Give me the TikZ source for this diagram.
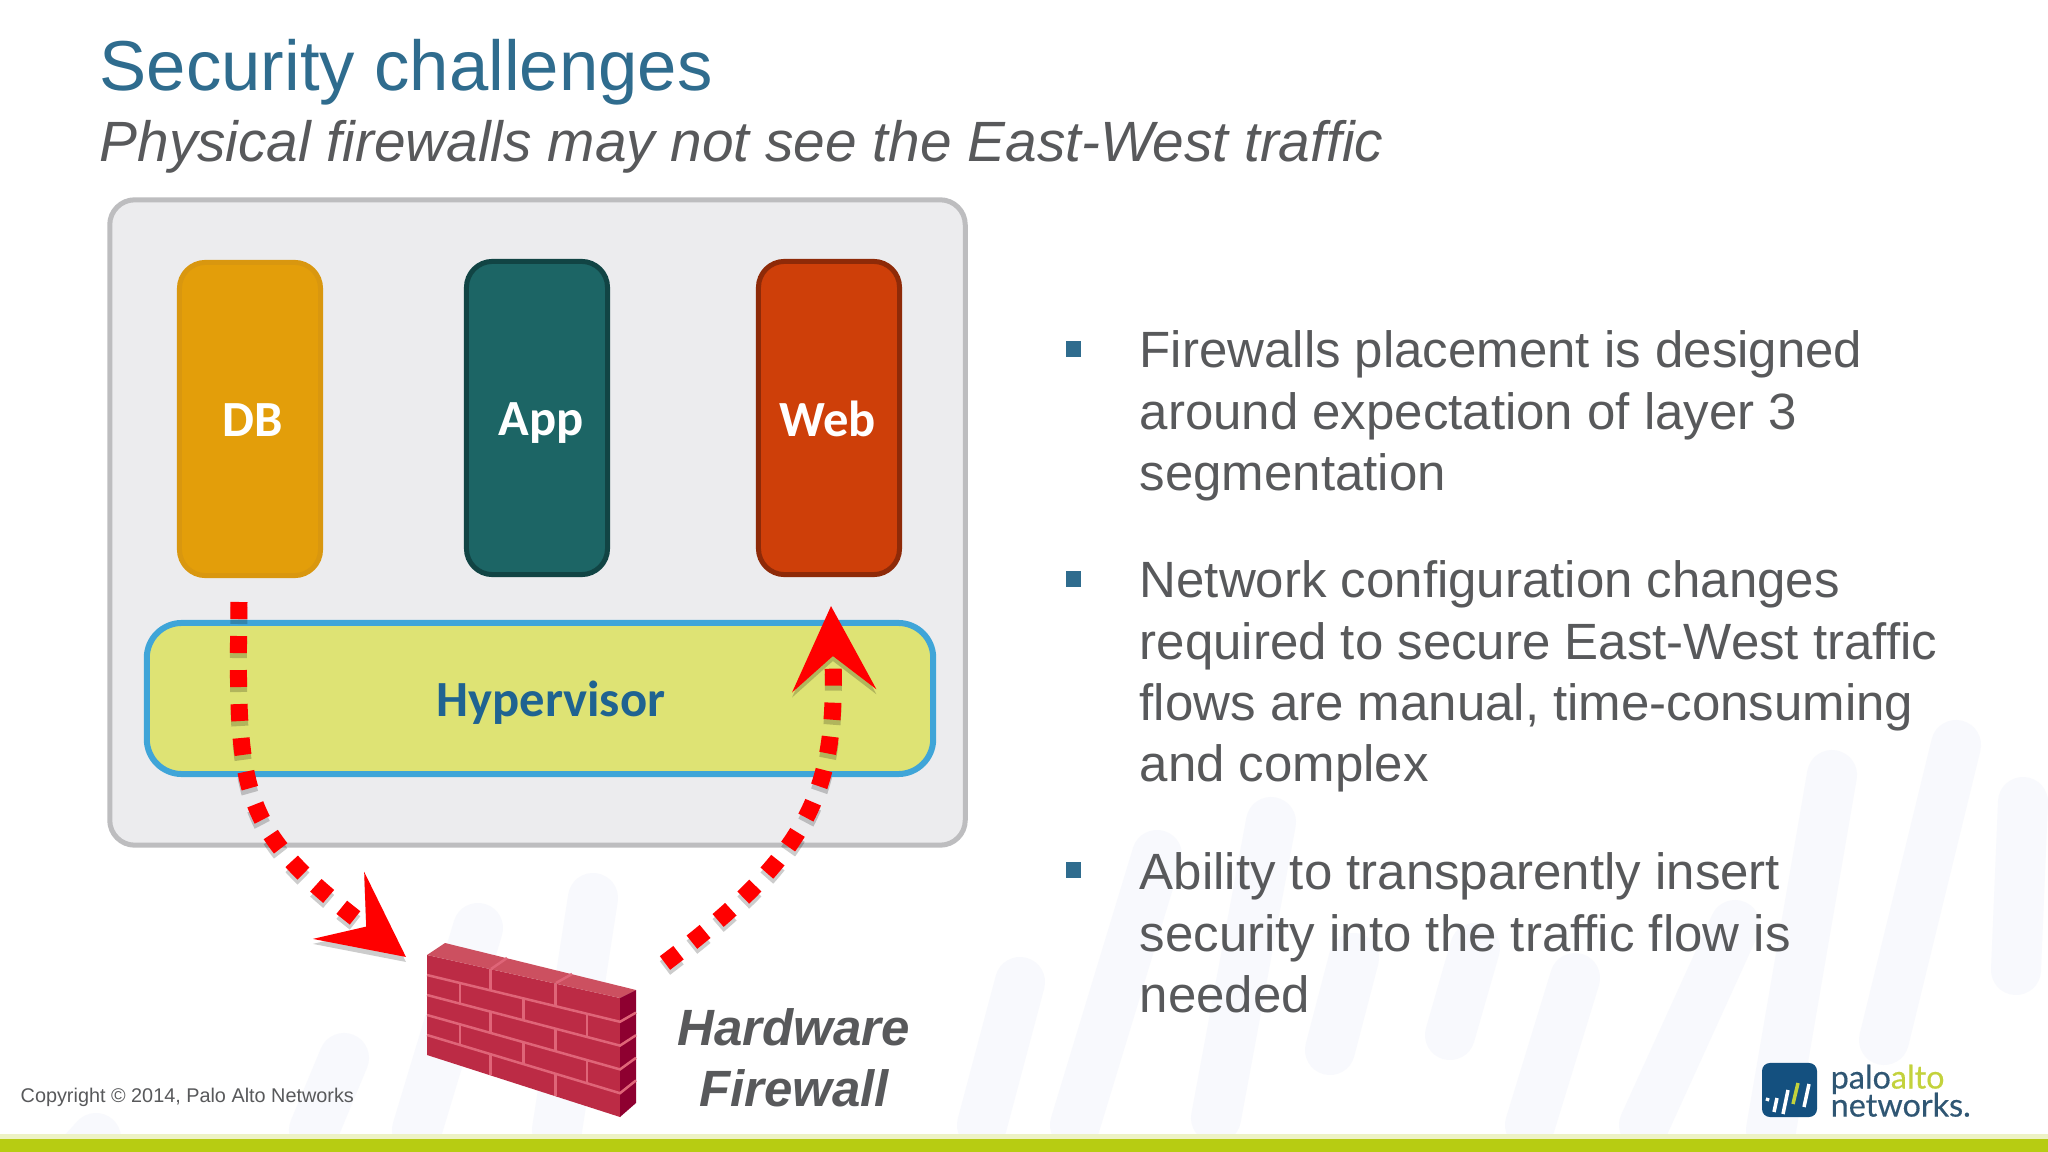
\documentclass[tikz,border=0pt]{standalone}
\usepackage{fontspec}
\setmainfont{Liberation Sans}
\newfontfamily\tierfont{Carlito}
\newfontfamily\logofont[FakeBold=0.4]{Lato}
\newcommand{\logotight}{\setlength{\lineskiplimit}{-10pt}}
\usetikzlibrary{arrows.meta}

\definecolor{titleblue}{HTML}{2F6C8E}
\definecolor{textgrey}{HTML}{58595B}
\definecolor{flowred}{HTML}{FF0000}
\definecolor{barpale}{HTML}{F8F9FD}
\definecolor{barlime}{HTML}{B7CC12}
\definecolor{logoblue}{HTML}{14507F}
\definecolor{logotext}{HTML}{2F5673}
\definecolor{logolime}{HTML}{C3D23C}
\definecolor{hostfill}{HTML}{ECECEE}
\definecolor{hostline}{HTML}{BDBDBF}
\definecolor{dbfill}{HTML}{E39E0A}
\definecolor{dbline}{HTML}{D9970F}
\definecolor{appfill}{HTML}{1C6565}
\definecolor{appline}{HTML}{114444}
\definecolor{webfill}{HTML}{CE3F09}
\definecolor{webline}{HTML}{8E2A08}
\definecolor{hypfill}{HTML}{DEE374}
\definecolor{hypline}{HTML}{3FA5D8}
\definecolor{hyptext}{HTML}{1F6391}
\definecolor{brickfront}{HTML}{BC2B45}
\definecolor{bricktop}{HTML}{CC5060}
\definecolor{brickside}{HTML}{8E0030}
\definecolor{brickline}{HTML}{DF6578}

\tikzset{
  watermark/.style={line width=0.5cm, line cap=round, barpale},
  tierbox/.style={draw, line width=0.05cm, rounded corners=0.26cm, minimum width=1.41cm, minimum height=3.13cm},
  tierlabel/.style={inner sep=0pt, text height=0.3cm, text depth=0pt, font=\tierfont\bfseries\fontsize{14.4}{17}\selectfont},
  bodytext/.style={anchor=north west, inner sep=0pt, align=left, text=textgrey,
    font=\fontsize{14.5}{17.47}\selectfont},
  bulletbox/.style={fill=titleblue, minimum size=0.15cm, inner sep=0pt},
  flowdash/.style={line width=0.17cm, dash pattern=on 0.17cm off 0.17cm,
    -{Stealth[length=0.84cm, width=0.83cm, inset=0.34cm]}},
  flowline/.style={flowred, flowdash,
    preaction={draw=black, opacity=0.2, flowdash, transform canvas={yshift=-0.05cm}}},
  brick/.style={draw=brickline, line width=0.025cm}
}

\begin{document}
\begin{tikzpicture}[x=0.01cm, y=-0.01cm]
  \useasboundingbox (0, 0) rectangle (2048, 1152);
  \fill[white] (0, 0) rectangle (2048, 1152);

  % background bars
  \foreach \xa/\ya/\xb/\yb in {1157/855/1075/1125, 1271/822/1216/1118, 1832/775/1771/1130, 1956/745/1884/1040,
      2023/802/2016/970, 1735/925/1644/1125, 1575/978/1530/1125, 1475/948/1450/1035, 1354/958/1330/1050,
      1020/982/982/1125, 593/898/557/1130, 478/928/417/1130, 344/1058/314/1130, 96/1138/85/1150}
    \draw[watermark] (\xa, \ya) -- (\xb, \yb);
  \fill[barlime!25!white] (0, 1134) rectangle (2048, 1139);
  \fill[barlime] (0, 1139) rectangle (2048, 1152);

  % titles
  \node[anchor=base west, inner sep=0pt, text=titleblue, font=\fontsize{20.1}{24}\selectfont] (title) at (99, 91) {Security challenges};
  \node[anchor=base west, inner sep=0pt, text=textgrey, font=\itshape\fontsize{16.15}{20}\selectfont] (subtitle) at (99, 162) {Physical firewalls may not see the East-West traffic};

  % host panel with the three tiers
  \node[draw=hostline, fill=hostfill, line width=0.05cm, rounded corners=0.25cm, minimum width=8.55cm, minimum height=6.45cm] (host) at (537.5, 522.5) {};
  \node[tierbox, draw=dbline, fill=dbfill] (db) at (250, 419) {};
  \node[tierbox, draw=appline, fill=appfill] (app) at (537, 418) {};
  \node[tierbox, draw=webline, fill=webfill] (web) at (829, 418) {};
  \node[tierlabel, text=white] (dblabel) at (253, 421.5) {DB};
  \node[tierlabel, text=white] (applabel) at (541, 420.5) {App};
  \node[tierlabel, text=white] (weblabel) at (827.5, 421.5) {Web};
  \node[draw=hypline, fill=hypfill, line width=0.06cm, rounded corners=0.35cm, minimum width=7.86cm, minimum height=1.51cm] (hypervisor) at (540, 698.5) {};
  \node[tierlabel, text=hyptext] (hyperlabel) at (551, 701) {Hypervisor};

  % firewall
  \fill[brickfront] (427, 955) -- (620, 998) -- (620, 1117) -- (427, 1055) -- cycle;
  \fill[bricktop] (427, 955) -- (445, 943) -- (636, 990) -- (620, 998) -- cycle;
  \fill[brickside] (620, 998) -- (636, 990) -- (636, 1103) -- (620, 1117) -- cycle;
  \foreach \v in {0.2, 0.4, 0.6, 0.8}
    \draw[brick] (427, {955+100*\v}) -- (620, {998+119*\v}) -- (636, {990+113*\v});
  \foreach \r in {0, 2, 4}
    \foreach \u in {0.33, 0.667}
      \draw[brick] ({427+193*\u}, {955+43*\u+(100+19*\u)*\r/5}) -- ({427+193*\u}, {955+43*\u+(100+19*\u)*(\r+1)/5});
  \foreach \r in {1, 3}
    \foreach \u in {0.17, 0.5, 0.83}
      \draw[brick] ({427+193*\u}, {955+43*\u+(100+19*\u)*\r/5}) -- ({427+193*\u}, {955+43*\u+(100+19*\u)*(\r+1)/5});
  \draw[brick] (491, 969) -- (507, 958);
  \draw[brick] (556, 983) -- (572, 974);
  \node[anchor=base, inner sep=0pt, text=textgrey, font=\bfseries\itshape\fontsize{14.5}{17.4}\selectfont] (fwlabel) at (794, 1045) {Hardware};
  \node[anchor=base, inner sep=0pt, text=textgrey, font=\bfseries\itshape\fontsize{14.5}{17.4}\selectfont] (fwlabelb) at (794, 1106) {Firewall};

  % traffic
  \coordinate (dbout) at (239, 602);
  \coordinate (fwin) at (406, 957);
  \coordinate (fwout) at (665, 963);
  \coordinate (webin) at (831, 606);
  \draw[flowline] (dbout) .. controls (236, 800) and (240, 830) .. (fwin);
  \draw[flowline] (fwout) .. controls (812, 852) and (838, 790) .. (webin);

  % bullets
  \node[bulletbox] (bulletA) at (1073, 349) {};
  \node[bodytext] (textA) at (1139, 330) {Firewalls placement is designed\\around expectation of layer 3\\segmentation};
  \node[bulletbox] (bulletB) at (1073, 579) {};
  \node[bodytext] (textB) at (1139, 560) {Network configuration changes\\required to secure East-West traffic\\flows are manual, time-consuming\\and complex};
  \node[bulletbox] (bulletC) at (1073, 870) {};
  \node[bodytext] (textC) at (1139, 852) {Ability to transparently insert\\security into the traffic flow is\\needed};

  % footer
  \node[anchor=base west, inner sep=0pt, text=textgrey, font=\fontsize{5.64}{7}\selectfont] (copyright) at (20, 1102) {Copyright © 2014, Palo Alto Networks};
  \node[fill=logoblue, rounded corners=0.08cm, minimum width=0.55cm, minimum height=0.54cm, inner sep=0pt] (logo) at (1789.5, 1090) {};
  \foreach \xa/\ya/\xb/\yb/\c in {1768/1098/1767/1101/white, 1777/1098/1774/1112/white, 1788/1090/1783/1114/white,
      1798/1083/1793/1104/logolime, 1809/1084/1804/1107/white}
    \draw[\c, line width=0.035cm] (\xa, \ya) -- (\xb, \yb);
  \node[anchor=north west, inner sep=0pt, align=left, text=logotext, font=\logofont\fontsize{9.2}{7.97}\selectfont\logotight] (logoname) at (1830, 1064) {palo\textcolor{logolime}{alto}\\networks.};
\end{tikzpicture}
\end{document}
